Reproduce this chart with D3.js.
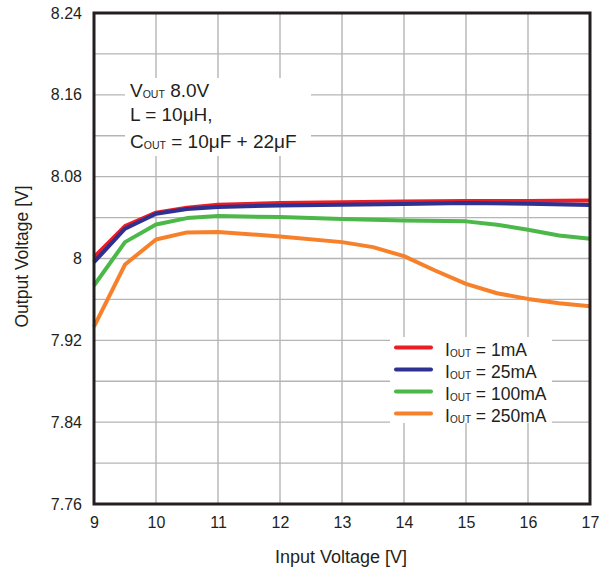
<!DOCTYPE html>
<html>
<head>
<meta charset="utf-8">
<script src="https://cdn.jsdelivr.net/npm/d3@7"></script>
<style>
  html, body { margin: 0; padding: 0; background: #fff; }
  svg { display: block; font-family: "Liberation Sans", Arial, sans-serif; }
</style>
</head>
<body>
<div id="chart"></div>
<script>
// ---- data ----
const inputVoltage = [9, 9.5, 10, 10.5, 11, 12, 13, 14, 15, 16, 17];
const iout1mA   = [8.0013, 8.0317, 8.0448, 8.0497, 8.0526, 8.0542, 8.0549, 8.0558, 8.0561, 8.0563, 8.0568];
const iout25mA  = [7.9964, 8.0291, 8.0438, 8.0483, 8.0503, 8.0519, 8.0526, 8.0532, 8.0542, 8.0536, 8.0522];

const inputVoltage100 = [9, 9.5, 10, 10.5, 11, 12, 13, 14, 15, 15.5, 16, 16.5, 17];
const iout100mA = [7.9736, 8.0160, 8.0333, 8.0395, 8.0415, 8.0405, 8.0385, 8.0372, 8.0363, 8.0330, 8.0281, 8.0225, 8.0193];

const inputVoltage250 = [9, 9.5, 10, 10.5, 11, 12, 13, 13.5, 14, 14.5, 15, 15.5, 16, 16.5, 17];
const iout250mA = [7.9334, 7.9941, 8.0186, 8.0255, 8.0258, 8.0216, 8.0160, 8.0111, 8.0023, 7.9883, 7.9752, 7.9660, 7.9605, 7.9562, 7.9533];

const seriesNames = ["= 1mA", "= 25mA", "= 100mA", "= 250mA"];
const seriesColors = ["#ec1c24", "#2e3192", "#4bb849", "#f7812b"];

const xTicks = [9, 10, 11, 12, 13, 14, 15, 16, 17];
const yTicks = [7.76, 7.84, 7.92, 8, 8.08, 8.16, 8.24];
const yGrid = [7.76, 7.80, 7.84, 7.88, 7.92, 7.96, 8.00, 8.04, 8.08, 8.12, 8.16, 8.20, 8.24];
const yTickLabels = ["7.76", "7.84", "7.92", "8", "8.08", "8.16", "8.24"];

// ---- layout ----
const W = 608, H = 570;
const pL = 94, pR = 590, pT = 13, pB = 504;

const svg = d3.select("#chart").append("svg").attr("width", W).attr("height", H);

const x = d3.scaleLinear().domain([9, 17]).range([pL, pR]);
const y = d3.scaleLinear().domain([7.76, 8.24]).range([pB, pT]);

const gridColor = "#b5b5b5";
const textColor = "#231f20";

// grid
svg.append("g").selectAll("line").data(xTicks).join("line")
  .attr("x1", d => x(d)).attr("x2", d => x(d))
  .attr("y1", pT).attr("y2", pB)
  .attr("stroke", gridColor).attr("stroke-width", 1.4);
svg.append("g").selectAll("line").data(yGrid).join("line")
  .attr("x1", pL).attr("x2", pR)
  .attr("y1", d => y(d)).attr("y2", d => y(d))
  .attr("stroke", gridColor).attr("stroke-width", 1.4);

// series
const series = [
  { xs: inputVoltage, ys: iout1mA },
  { xs: inputVoltage, ys: iout25mA },
  { xs: inputVoltage100, ys: iout100mA },
  { xs: inputVoltage250, ys: iout250mA }
];
const line = d3.line().x(d => x(d[0])).y(d => y(d[1]));

const drawOrder = [3, 2, 0, 1];
drawOrder.forEach(i => {
  const s = series[i];
  svg.append("path")
    .datum(s.xs.map((v, k) => [v, s.ys[k]]))
    .attr("d", line)
    .attr("fill", "none")
    .attr("stroke", seriesColors[i])
    .attr("stroke-width", 4)
    .attr("stroke-linejoin", "round");
});

// annotation box (white background)
svg.append("rect").attr("x", 125).attr("y", 78).attr("width", 186).attr("height", 78).attr("fill", "#fff");
const ann = svg.append("g").attr("fill", textColor).attr("font-size", 19);
const t1 = ann.append("text").attr("x", 130).attr("y", 97);
t1.append("tspan").text("V");
t1.append("tspan").attr("font-size", 10.5).attr("dy", 1).text("OUT");
t1.append("tspan").attr("dy", -1).text(" 8.0V");
ann.append("text").attr("x", 130).attr("y", 121).text("L = 10\u03bcH,");
const t3 = ann.append("text").attr("x", 130).attr("y", 148);
t3.append("tspan").text("C");
t3.append("tspan").attr("font-size", 10.5).attr("dy", 1).text("OUT");
t3.append("tspan").attr("dy", -1).text(" = 10\u03bcF + 22\u03bcF");

// legend
svg.append("rect").attr("x", 390).attr("y", 337).attr("width", 162).attr("height", 86).attr("fill", "#fff");
const lg = svg.append("g");
seriesNames.forEach((name, i) => {
  const ly = 347.5 + i * 22;
  lg.append("line").attr("x1", 396).attr("x2", 431).attr("y1", ly).attr("y2", ly)
    .attr("stroke", seriesColors[i]).attr("stroke-width", 4).attr("stroke-linecap", "round");
  const t = lg.append("text").attr("x", 445).attr("y", ly + 8).attr("fill", textColor).attr("font-size", 17.5);
  t.append("tspan").text("I");
  t.append("tspan").attr("font-size", 10).attr("dy", 1).text("OUT");
  t.append("tspan").attr("dy", -1).text(" " + name);
});

// frame
svg.append("rect").attr("x", pL).attr("y", pT).attr("width", pR - pL).attr("height", pB - pT)
  .attr("fill", "none").attr("stroke", textColor).attr("stroke-width", 3);

// axes
const xAxis = d3.axisBottom(x).tickValues(xTicks).tickSize(0).tickPadding(10).tickFormat(d3.format("d"));
const gx = svg.append("g").attr("transform", `translate(0,${pB + 3})`).call(xAxis);
gx.select(".domain").remove();
gx.selectAll("text").attr("font-size", 16).attr("fill", textColor).attr("font-family", "Liberation Sans, Arial, sans-serif");

const yAxis = d3.axisLeft(y).tickValues(yTicks).tickSize(0).tickPadding(12)
  .tickFormat((d, i) => yTickLabels[i]);
const gy = svg.append("g").attr("transform", `translate(${pL},0)`).call(yAxis);
gy.select(".domain").remove();
gy.selectAll("text").attr("font-size", 16).attr("fill", textColor).attr("font-family", "Liberation Sans, Arial, sans-serif");

// titles
svg.append("text").attr("x", (pL + pR) / 2 - 1).attr("y", 563).attr("text-anchor", "middle")
  .attr("font-size", 18).attr("fill", textColor).text("Input Voltage [V]");
svg.append("text").attr("transform", `translate(28,${(pT + pB) / 2 - 2}) rotate(-90)`)
  .attr("text-anchor", "middle").attr("font-size", 17.5).attr("fill", textColor).text("Output Voltage [V]");
</script>
</body>
</html>
